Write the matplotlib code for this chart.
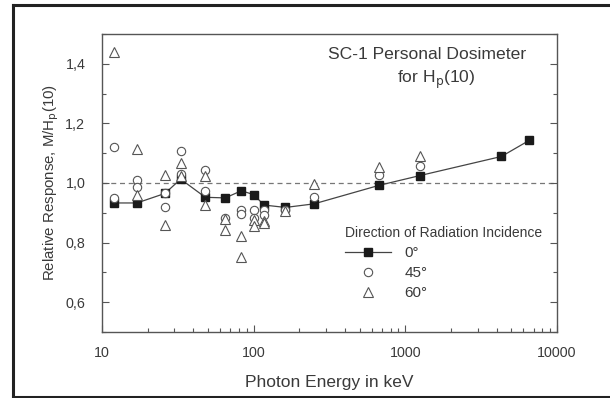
import matplotlib
matplotlib.use("Agg")
import matplotlib.pyplot as plt
from matplotlib.ticker import FixedLocator, NullFormatter, LogLocator
from matplotlib.lines import Line2D

# ---- data ----
energy_0 = [12, 17, 26, 33, 48, 65, 83, 100, 117, 162, 250, 670, 1250, 4300, 6560]
resp_0 = [0.933, 0.933, 0.965, 1.013, 0.952, 0.950, 0.974, 0.961, 0.926, 0.918,
          0.930, 0.992, 1.025, 1.089, 1.143]

energy_45 = [12, 12, 17, 17, 26, 26, 33, 33, 48, 48, 65, 83, 83, 100, 100,
             117, 117, 162, 250, 670, 1250]
resp_45 = [1.121, 0.950, 1.009, 0.985, 0.965, 0.919, 1.106, 1.031, 1.042, 0.972,
           0.882, 0.910, 0.897, 0.910, 0.882, 0.910, 0.894, 0.910, 0.952, 1.028, 1.056]

energy_60 = [12, 17, 17, 26, 26, 33, 33, 48, 48, 65, 65, 83, 83, 100, 100,
             117, 117, 162, 250, 670, 1250]
resp_60 = [1.439, 1.114, 0.961, 1.026, 0.859, 1.067, 1.022, 1.022, 0.927, 0.879,
           0.841, 0.823, 0.751, 0.875, 0.857, 0.871, 0.865, 0.905, 0.995, 1.054, 1.092]

y_ticks = [0.6, 0.8, 1.0, 1.2, 1.4]
y_tick_labels = ["0,6", "0,8", "1,0", "1,2", "1,4"]
x_ticks = [10, 100, 1000, 10000]
x_tick_labels = ["10", "100", "1000", "10000"]
legend_labels = ["0°", "45°", "60°"]

plt.rcParams['font.family'] = ['Liberation Sans', 'DejaVu Sans']
TXT = "#3a3a3a"
AX = "#555555"

fig = plt.figure(figsize=(6.10, 3.98), dpi=100)
ax = fig.add_axes([102/610, 1-332/398, 455/610, 298/398])

# outer border
for xs, ys in [([13, 13], [5, 397]), ([13, 610], [5, 5]), ([13, 610], [397, 397])]:
    fig.add_artist(Line2D([x/610 for x in xs], [1-y/398 for y in ys],
                          color="#222222", lw=2.2, transform=fig.transFigure))

ax.axhline(1.0, color="#777777", lw=0.9, ls=(0, (4, 3)), zorder=1)

ax.plot(energy_0, resp_0, color="#444444", lw=0.9, zorder=2,
        marker="s", ms=5.3, mfc="#1a1a1a", mec="#1a1a1a", label=legend_labels[0])
ax.plot(energy_45, resp_45, ls="none", marker="o", ms=6, mfc="white",
        mec="#555555", mew=0.8, zorder=3, label=legend_labels[1])
ax.plot(energy_60, resp_60, ls="none", marker="^", ms=6.5, mfc="white",
        mec="#555555", mew=0.8, zorder=3, label=legend_labels[2])

ax.set_xscale("log")
ax.set_xlim(10, 10000)
ax.set_ylim(0.5, 1.5)
ax.set_xticks(x_ticks)
ax.set_xticklabels(x_tick_labels)
ax.xaxis.set_minor_locator(LogLocator(base=10, subs=range(2, 10)))
ax.xaxis.set_minor_formatter(NullFormatter())
ax.set_yticks(y_ticks)
ax.set_yticklabels(y_tick_labels)
ax.yaxis.set_minor_locator(FixedLocator([0.5, 0.7, 0.9, 1.1, 1.3, 1.5]))

ax.tick_params(which="both", direction="in", colors=AX, labelcolor=TXT,
               labelsize=10.3, right=True, top=False, width=0.8)
ax.tick_params(which="major", length=5)
ax.tick_params(axis="x", which="major", pad=10)
ax.tick_params(axis="y", which="major", pad=12)
ax.tick_params(which="minor", length=3)
for s in ax.spines.values():
    s.set_color(AX)
    s.set_linewidth(1.0)

ax.set_xlabel("Photon Energy in keV", fontsize=12.5, color=TXT, labelpad=11)
ax.set_ylabel(r"Relative Response, M/H$_\mathrm{p}$(10)", fontsize=10.8,
              color=TXT, labelpad=3)

ax.text(0.715, 0.93, "SC-1 Personal Dosimeter", transform=ax.transAxes,
        ha="center", va="center", fontsize=12.6, color=TXT)
ax.text(0.735, 0.845, r"for H$_\mathrm{p}$(10)", transform=ax.transAxes,
        ha="center", va="center", fontsize=12.6, color=TXT)

leg = ax.legend(title="Direction of Radiation Incidence", loc="upper left",
                bbox_to_anchor=(345/610, 1-226/398), bbox_transform=fig.transFigure,
                frameon=False, fontsize=11, title_fontsize=10,
                handlelength=3.0, handletextpad=0.9, labelspacing=0.4,
                borderpad=0, borderaxespad=0)
leg._legend_box.align = "left"
leg.get_title().set_color(TXT)
for t in leg.get_texts():
    t.set_color(TXT)

fig.savefig("out.png", dpi=100, facecolor="white")
